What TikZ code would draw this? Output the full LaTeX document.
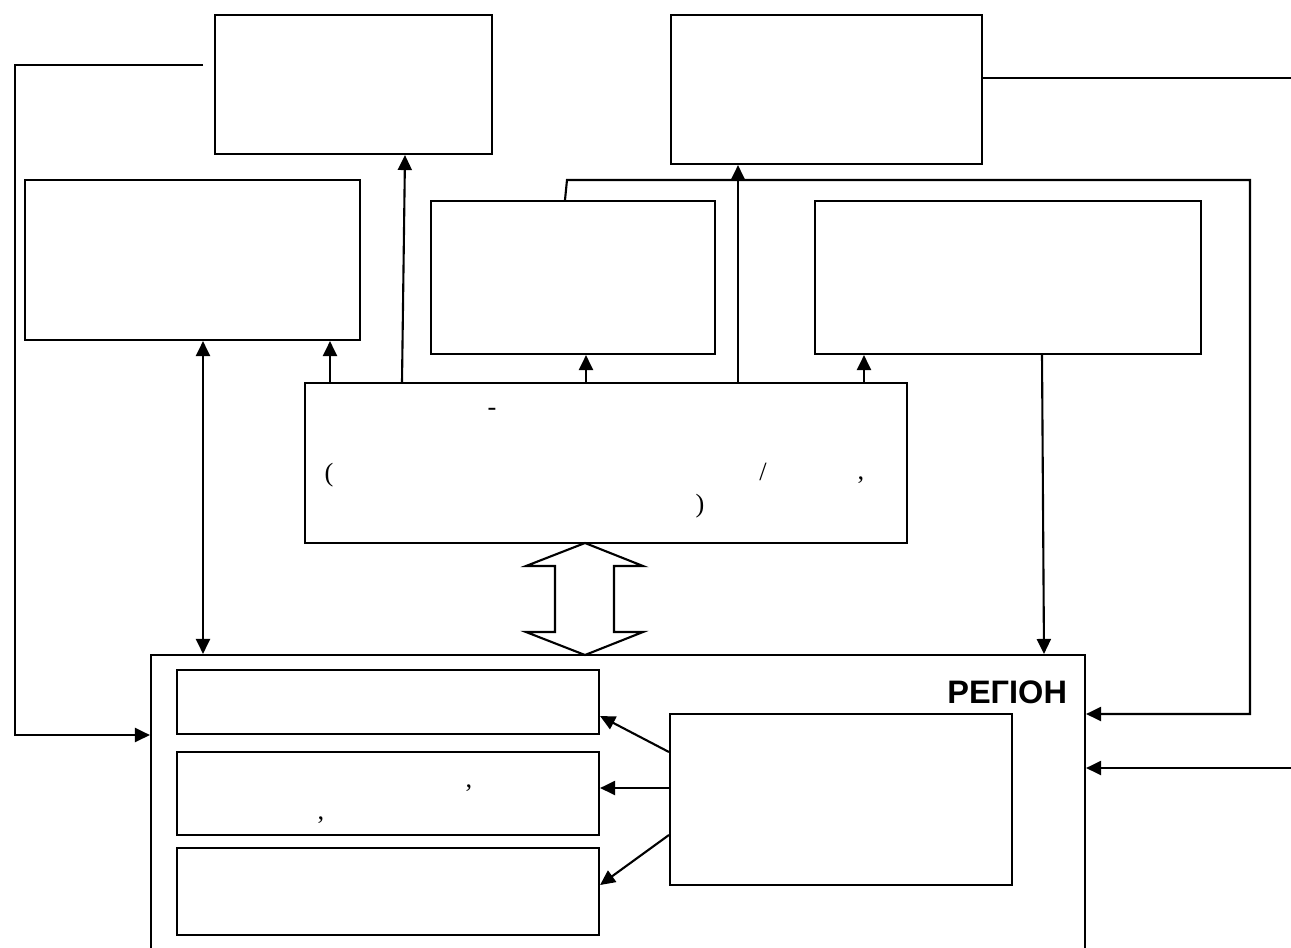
\documentclass[tikz,border=0pt]{standalone}
\usepackage{fontspec}
\setmainfont{Liberation Serif}
\newfontfamily\regfont{Liberation Sans}
\usetikzlibrary{arrows.meta, fit}

\tikzset{
  blk/.style={draw, line width=1.2pt, inner sep=0pt},
  pnct/.style={inner sep=0pt, font=\fontsize{15}{17}\selectfont},
}

\begin{document}
\begin{tikzpicture}[x=0.02cm, y=-0.02cm, line width=1.2pt,
  >={Triangle[length=0.3cm, width=0.28cm]}]

  \useasboundingbox (0,0) rectangle (1291,947);

  % Upper boxes
  \node[blk, fit={(215,15) (492,154)}] (tlbox) {};
  \node[blk, fit={(671,15) (982,164)}] (trbox) {};
  \node[blk, fit={(25,180) (360,340)}] (lbox) {};
  \node[blk, fit={(431,201) (715,354)}] (mbox) {};
  \node[blk, fit={(815,201) (1201,354)}] (rbox) {};

  % Central box
  \node[blk, fit={(305,383) (907,543)}] (cbox) {};
  \node[pnct] (dash) at (492,412) {-};
  \node[pnct] (lpar) at (329,475) {(};
  \node[pnct] (slash) at (763,472) {/};
  \node[pnct] (comma) at (861,480) {,};
  \node[pnct] (rpar) at (700,506) {)};

  % Region (bottom edge falls off the page)
  \node[blk, fit={(151,655) (1085,965)}] (region) {};
  \node[anchor=base east, inner sep=0pt, font=\regfont\bfseries\fontsize{18.5}{21}\selectfont]
    (regname) at (1068,703) {РЕГІОН};

  \node[blk, fit={(177,670) (599,734)}] (sub1) {};
  \node[blk, fit={(177,752) (599,835)}] (sub2) {};
  \node[blk, fit={(177,848) (599,935)}] (sub3) {};
  \node[pnct] (cma1) at (469,788) {,};
  \node[pnct] (cma2) at (321,820) {,};
  \node[blk, fit={(670,714) (1012,885)}] (ibox) {};

  % Hollow double arrow between central box and region
  \draw (585,543) -- (643,566) -- (614,566) -- (614,632) -- (643,632)
    -- (585,655) -- (526,632) -- (555,632) -- (555,566) -- (526,566) -- cycle;

  % Arrows up from the central box
  \foreach \xp/\tgt in {330/lbox, 586/mbox, 864/rbox, 738/trbox} {
    \draw[->] (cbox.north -| \xp,0) -- (\tgt.south -| \xp,0);
  }
  \draw[->] (cbox.north -| 402,0) -- (tlbox.south -| 405,0);

  % Left box <-> region
  \draw[<->] (lbox.south -| 203,0) -- (region.north -| 203,0);

  % Right box -> region
  \draw[->] (rbox.south -| 1042,0) -- (region.north -| 1044,0);

  % Outer loop on the left
  \coordinate (ltap) at (203,65);
  \draw[->] (ltap) -- (15,65) |- (region.west |- 0,735);

  % Outer loop on the right
  \coordinate (rloop) at (1250,180);
  \draw[->] (mbox.north -| 565,0) -- (567,180) -- (rloop) |- (region.east |- 0,714);

  % Lines leaving at the right edge
  \coordinate (rtop) at (1291,78);
  \draw (trbox.east |- rtop) -- (rtop);
  \coordinate (rbot) at (1291,768);
  \draw[->] (rbot) -- (region.east |- rbot);

  % Info box -> sub boxes
  \draw[->] (ibox.west |- 0,752) -- (sub1.east |- 0,716);
  \draw[->] (ibox.west |- 0,788) -- (sub2.east |- 0,788);
  \draw[->] (ibox.west |- 0,835) -- (sub3.east |- 0,885);

\end{tikzpicture}
\end{document}
